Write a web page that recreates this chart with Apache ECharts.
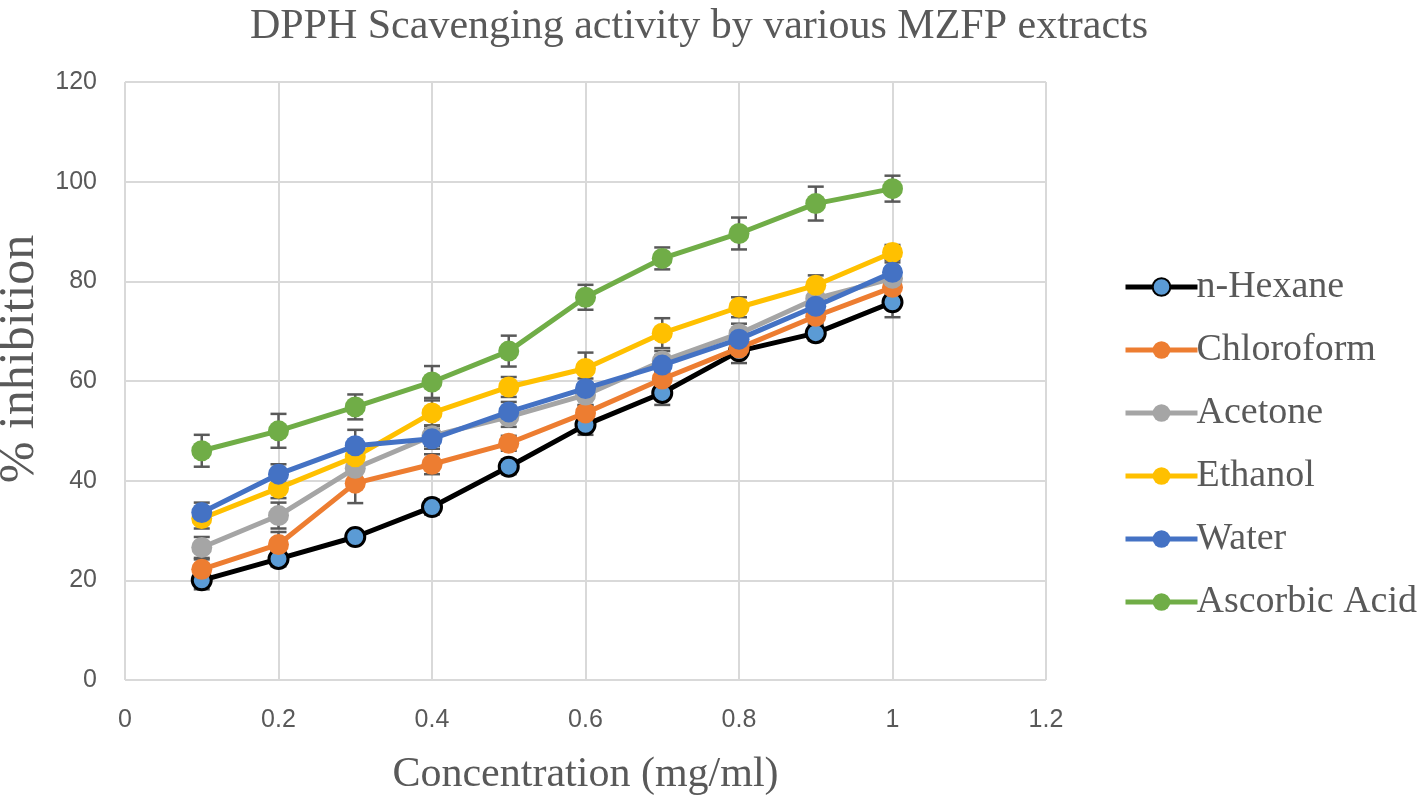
<!DOCTYPE html>
<html>
<head>
<meta charset="utf-8">
<script src="https://cdn.jsdelivr.net/npm/echarts@6/dist/echarts.min.js"></script>
<style>html,body{margin:0;padding:0;background:#fff;}#c{width:1418px;height:797px;}</style>
</head>
<body>
<div id="c"></div>
<script>
const concentrations = [0.1, 0.2, 0.3, 0.4, 0.5, 0.6, 0.7, 0.8, 0.9, 1.0];
const seriesNames = ['n-Hexane', 'Chloroform', 'Acetone', 'Ethanol', 'Water', 'Ascorbic Acid'];
const hexane     = [20.0, 24.3, 28.7, 34.7, 42.8, 51.2, 57.6, 66.0, 69.6, 75.8];
const chloroform = [22.2, 27.2, 39.5, 43.3, 47.5, 53.6, 60.4, 66.6, 73.0, 78.8];
const acetone    = [26.6, 33.0, 42.5, 49.0, 52.8, 57.2, 64.0, 69.5, 76.5, 80.6];
const ethanol    = [32.4, 38.5, 44.8, 53.6, 58.8, 62.5, 69.6, 74.8, 79.2, 85.8];
const water      = [33.6, 41.3, 47.0, 48.4, 53.8, 58.5, 63.2, 68.4, 75.0, 81.8];
const ascorbic   = [46.0, 50.0, 54.8, 59.8, 66.0, 76.8, 84.6, 89.6, 95.6, 98.6];
const hexaneErr     = [1.8, 1.5, 1.2, 1.5, 1.5, 2.0, 2.4, 2.4, 1.5, 3.0];
const chloroformErr = [2.0, 2.5, 4.0, 2.0, 1.5, 1.5, 1.5, 1.5, 1.5, 1.5];
const acetoneErr    = [2.1, 2.6, 2.0, 2.0, 2.0, 2.0, 2.0, 2.0, 2.0, 2.0];
const ethanolErr    = [2.0, 2.0, 2.0, 2.5, 2.0, 3.2, 3.0, 2.0, 2.0, 1.5];
const waterErr      = [2.0, 2.0, 3.2, 2.0, 2.0, 2.0, 2.0, 2.0, 2.0, 2.0];
const ascorbicErr   = [3.2, 3.4, 2.5, 3.2, 3.1, 2.5, 2.2, 3.2, 3.4, 2.6];
const xTicks = ['0', '0.2', '0.4', '0.6', '0.8', '1', '1.2'];
const yTicks = ['0', '20', '40', '60', '80', '100', '120'];

const values = [hexane, chloroform, acetone, ethanol, water, ascorbic];
const errors = [hexaneErr, chloroformErr, acetoneErr, ethanolErr, waterErr, ascorbicErr];
const lineColors = ['#000000', '#ED7D31', '#A5A5A5', '#FFC000', '#4472C4', '#70AD47'];
const fillColors = ['#5B9BD5', '#ED7D31', '#A5A5A5', '#FFC000', '#4472C4', '#70AD47'];

const chart = echarts.init(document.getElementById('c'));

const errSeries = values.map((vals, s) => ({
  type: 'custom',
  name: seriesNames[s] + ' err',
  z: 1,
  silent: true,
  data: concentrations.map((x, i) => [x, vals[i] - errors[s][i], vals[i] + errors[s][i]]),
  renderItem: function (params, api) {
    const lo = api.coord([api.value(0), api.value(1)]);
    const hi = api.coord([api.value(0), api.value(2)]);
    const w = 8;
    const st = { stroke: '#595959', lineWidth: 2.5, fill: null };
    return {
      type: 'group',
      children: [
        { type: 'line', shape: { x1: lo[0], y1: lo[1], x2: hi[0], y2: hi[1] }, style: st },
        { type: 'line', shape: { x1: lo[0] - w, y1: lo[1], x2: lo[0] + w, y2: lo[1] }, style: st },
        { type: 'line', shape: { x1: hi[0] - w, y1: hi[1], x2: hi[0] + w, y2: hi[1] }, style: st }
      ]
    };
  }
}));

const lineSeries = values.map((vals, s) => ({
  type: 'line',
  name: seriesNames[s],
  z: 2 + s,
  data: concentrations.map((x, i) => [x, vals[i]]),
  symbol: 'circle',
  symbolSize: s === 0 ? 19 : 21,
  lineStyle: { color: lineColors[s], width: 5 },
  itemStyle: { color: fillColors[s], borderColor: lineColors[s], borderWidth: s === 0 ? 3 : 0 },
  emphasis: { disabled: true },
  animation: false
}));

chart.setOption({
  animation: false,
  title: {
    text: 'DPPH Scavenging activity by various MZFP extracts',
    left: 694, top: 1, textAlign: 'center',
    textStyle: { fontFamily: 'Liberation Serif', fontWeight: 'normal', fontSize: 42, color: '#595959' }
  },
  grid: { left: 125, right: 372, top: 82, bottom: 117, outerBoundsMode: 'none', containLabel: false },
  legend: {
    orient: 'vertical',
    left: 1118, top: 263,
    itemWidth: 72, itemHeight: 22, itemGap: 25,
    lineStyle: { width: 5 },
    data: seriesNames,
    textStyle: { fontFamily: 'Liberation Serif', fontSize: 38, color: '#595959', padding: [0, 0, 0, -6] }
  },
  xAxis: {
    type: 'value', min: 0, max: 1.2, interval: 0.2,
    name: 'Concentration (mg/ml)', nameLocation: 'middle', nameGap: 74,
    nameTextStyle: { fontFamily: 'Liberation Serif', fontSize: 42, color: '#595959' },
    axisLine: { show: false }, axisTick: { show: false },
    axisLabel: {
      margin: 28, fontSize: 25, color: '#595959', fontFamily: 'Liberation Sans',
      formatter: function (v) { return xTicks[Math.round(v / 0.2)]; }
    },
    splitLine: { show: true, lineStyle: { color: '#D9D9D9', width: 2 } }
  },
  yAxis: {
    type: 'value', min: 0, max: 120, interval: 20,
    name: '% inhibition', nameLocation: 'middle', nameGap: 78,
    nameTextStyle: { fontFamily: 'Liberation Serif', fontSize: 50, color: '#595959', padding: [0, 0, 0, 44] },
    axisLine: { show: false }, axisTick: { show: false },
    axisLabel: {
      margin: 28, fontSize: 25, color: '#595959', fontFamily: 'Liberation Sans',
      formatter: function (v) { return yTicks[Math.round(v / 20)]; }
    },
    splitLine: { show: true, lineStyle: { color: '#D9D9D9', width: 2 } }
  },
  series: errSeries.concat(lineSeries)
});
</script>
</body>
</html>
